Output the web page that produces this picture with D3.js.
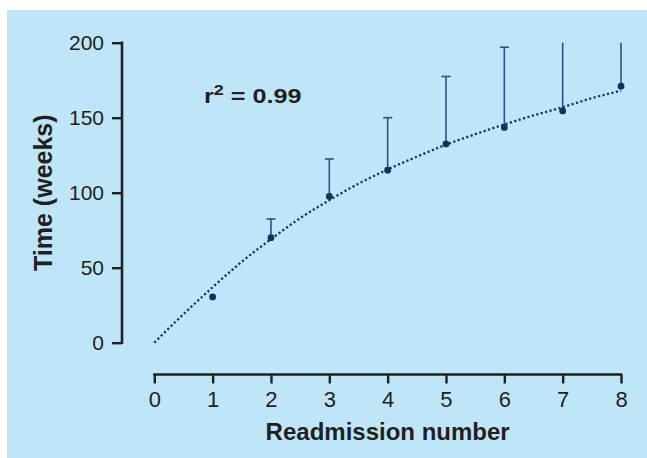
<!DOCTYPE html>
<html>
<head>
<meta charset="utf-8">
<script src="https://cdn.jsdelivr.net/npm/d3@7"></script>
<style>
  body { margin: 0; background: #fff; }
  svg { display: block; }
  text { font-family: "Liberation Sans", Arial, Helvetica, sans-serif; fill: #231f20; }
</style>
</head>
<body>
<svg id="chart" width="647" height="458"></svg>
<script>
"use strict";

// readmission number and mean time (weeks)
const readmissions = [1, 2, 3, 4, 5, 6, 7, 8];
const meanWeeks = [30.5, 70, 97.5, 115, 132.5, 143.5, 154.5, 171];
// upper end of error bar (7 and 8 run off the top of the axis)
const upperWeeks = [null, 82.5, 122.5, 150, 177.5, 197, 200, 200];
const capped = [false, true, true, true, true, true, false, false];

// fitted curve
const fitX = [0, 0.5, 1, 1.5, 2, 2.5, 3, 3.5, 4, 4.5, 5, 5.5, 6, 6.5, 7, 7.5, 8];
const fitY = [0, 19, 37, 54, 69, 83, 95, 106, 115.5, 124, 132, 139, 145.5, 151.5, 157, 163, 168];

const xTicks = [0, 1, 2, 3, 4, 5, 6, 7, 8];
const yTicks = [0, 50, 100, 150, 200];

const svg = d3.select("#chart");

svg.append("rect")
    .attr("x", 7).attr("y", 10)
    .attr("width", 640).attr("height", 448)
    .attr("fill", "#bfe6f8");

const x = d3.scaleLinear().domain([0, 8]).range([154.3, 621]);
const y = d3.scaleLinear().domain([0, 200]).range([342.7, 42.7]);

const axisColor = "#231f20";

// y axis
const yAxis = svg.append("g")
    .attr("transform", "translate(122,0)")
    .call(d3.axisLeft(y).tickValues(yTicks).tickSize(10).tickPadding(8).tickSizeOuter(0));
// x axis
const xAxis = svg.append("g")
    .attr("transform", "translate(0,374.5)")
    .call(d3.axisBottom(x).tickValues(xTicks).tickSize(9).tickPadding(8).tickSizeOuter(0));

[xAxis, yAxis].forEach(function(g) {
    g.select(".domain").attr("stroke", axisColor).attr("stroke-width", 2.6);
    g.selectAll(".tick line").attr("stroke", axisColor).attr("stroke-width", 2.4);
    g.selectAll(".tick text")
        .attr("fill", axisColor)
        .style("font-family", "'Liberation Sans', Arial, sans-serif");
});
yAxis.selectAll(".tick text").style("font-size", "21px");
xAxis.selectAll(".tick text").style("font-size", "22px");
// extend the domain ends to cover the end ticks
yAxis.select(".domain").attr("d", "M0," + (y(200) - 1.2) + "V" + (y(0) + 1.2));
xAxis.select(".domain").attr("d", "M" + (x(0) - 1.2) + ",0H" + (x(8) + 1.2));

// fitted curve
const fitData = fitX.map(function(v, i) { return [v, fitY[i]]; });
svg.append("path")
    .datum(fitData)
    .attr("fill", "none")
    .attr("stroke", "#0b3a66")
    .attr("stroke-width", 2.3)
    .attr("stroke-dasharray", "2.2,2.4")
    .attr("d", d3.line()
        .x(function(d) { return x(d[0]); })
        .y(function(d) { return y(d[1]); })
        .curve(d3.curveMonotoneX));

// error bars
const barColor = "#1f5785";
readmissions.forEach(function(r, i) {
    if (upperWeeks[i] === null) return;
    svg.append("line")
        .attr("x1", x(r)).attr("x2", x(r))
        .attr("y1", y(meanWeeks[i])).attr("y2", y(upperWeeks[i]))
        .attr("stroke", barColor).attr("stroke-width", 1.6);
    if (capped[i]) {
        svg.append("line")
            .attr("x1", x(r) - 4.5).attr("x2", x(r) + 4.5)
            .attr("y1", y(upperWeeks[i])).attr("y2", y(upperWeeks[i]))
            .attr("stroke", barColor).attr("stroke-width", 1.6);
    }
});

// points
svg.selectAll("circle.pt")
    .data(readmissions)
    .enter()
    .append("circle")
    .attr("class", "pt")
    .attr("r", 3.4)
    .attr("fill", "#0a355f")
    .attr("cx", function(d) { return x(d); })
    .attr("cy", function(d, i) { return y(meanWeeks[i]); });

// r squared label (the original type is set quite wide)
const r2 = svg.append("text")
    .attr("transform", "translate(204,103) scale(1.2,1)")
    .style("font-size", "21px")
    .style("font-weight", "bold");
r2.append("tspan").text("r");
r2.append("tspan").attr("dy", -8).style("font-size", "15px").text("2");
r2.append("tspan").attr("dy", 8).text(" = 0.99");

// axis titles
svg.append("text")
    .attr("x", (x(0) + x(8)) / 2).attr("y", 440)
    .attr("text-anchor", "middle")
    .style("font-size", "24px")
    .style("font-weight", "bold")
    .text("Readmission number");

svg.append("text")
    .attr("transform", "translate(51.5," + ((y(0) + y(200)) / 2) + ") rotate(-90)")
    .attr("text-anchor", "middle")
    .style("font-size", "25px")
    .style("font-weight", "bold")
    .text("Time (weeks)");
</script>
</body>
</html>
